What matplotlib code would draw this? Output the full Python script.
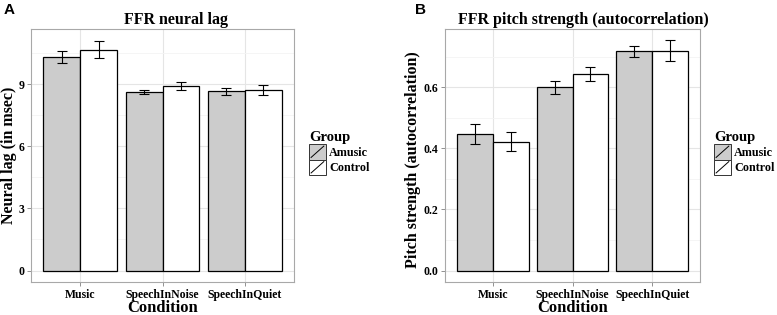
import numpy as np
import matplotlib
matplotlib.use("Agg")
import matplotlib.pyplot as plt
from matplotlib.patches import Rectangle
from matplotlib.lines import Line2D
from matplotlib.legend_handler import HandlerPatch

# data
conditions = ["Music", "SpeechInNoise", "SpeechInQuiet"]
groups = ["Amusic", "Control"]
lag_amusic = [10.31, 8.62, 8.65]
lag_control = [10.67, 8.90, 8.73]
lag_amusic_err = [0.30, 0.11, 0.17]
lag_control_err = [0.41, 0.18, 0.24]
pitch_amusic = [0.447, 0.600, 0.718]
pitch_control = [0.421, 0.644, 0.719]
pitch_amusic_err = [0.033, 0.021, 0.018]
pitch_control_err = [0.031, 0.023, 0.034]

fills = ["#CCCCCC", "white"]
serif = "Liberation Serif"
W, H = 777, 315


class SlashHandler(HandlerPatch):
    # ggplot style legend key: filled box with a diagonal line
    def create_artists(self, legend, orig_handle, xdescent, ydescent,
                       width, height, fontsize, trans):
        r = Rectangle((-xdescent, -ydescent), width, height,
                      facecolor=orig_handle.get_facecolor(),
                      edgecolor="#333333", lw=0.7, transform=trans)
        l = Line2D([-xdescent + 1.5, -xdescent + width - 1.5],
                   [-ydescent + 1.5, -ydescent + height - 1.5],
                   color="black", lw=0.7, transform=trans)
        return [r, l]


def panel(fig, rect, a, b, ea, eb, yticks, minor, ylim, fmt, ylabel, title,
          title_x, letter, letter_x, leg_x, ylab_x, ylab_y):
    ax = fig.add_axes(rect)
    x = np.arange(1, len(conditions) + 1)
    w = 0.45
    for vals, errs, fc, off in [(a, ea, fills[0], -w / 2), (b, eb, fills[1], w / 2)]:
        ax.bar(x + off, vals, width=w, color=fc, edgecolor="black", lw=0.9, zorder=3)
        ax.errorbar(x + off, vals, yerr=errs, fmt="none", ecolor="black",
                    elinewidth=0.8, capsize=3.8, capthick=0.8, zorder=4)
    ax.set_xlim(0.4, 3.6)
    ax.set_ylim(*ylim)
    ax.set_xticks(x)
    ax.set_xticklabels(conditions, fontfamily=serif, fontweight="bold", fontsize=8.5)
    ax.set_yticks(yticks)
    ax.set_yticklabels([fmt % v for v in yticks], fontfamily=serif,
                       fontweight="bold", fontsize=8.5)
    ax.set_yticks(minor, minor=True)
    ax.tick_params(axis="y", which="minor", length=0)
    ax.tick_params(which="major", length=3, color="#7F7F7F", width=0.6, pad=2)
    ax.grid(True, which="major", color="#E5E5E5", lw=0.8, zorder=0)
    ax.grid(True, which="minor", axis="y", color="#F4F4F4", lw=0.6, zorder=0)
    for s in ax.spines.values():
        s.set_color("#A8A8A8")
        s.set_linewidth(0.8)
    ax.set_xlabel("Condition", fontfamily=serif, fontweight="bold", fontsize=12,
                  labelpad=-1)
    fig.text(ylab_x / W, 1 - ylab_y / H, ylabel, rotation=90, ha="center",
             va="center", fontfamily=serif, fontweight="bold", fontsize=11.5)
    fig.text(title_x / W, 1 - 20 / H, title, ha="center", va="center",
             fontfamily=serif, fontweight="bold", fontsize=11.5)
    fig.text(letter_x / W, 1 - 10 / H, letter, ha="center", va="center",
             fontfamily="Liberation Sans", fontweight="bold", fontsize=11)
    handles = [Rectangle((0, 0), 1, 1, facecolor=f) for f in fills]
    leg = ax.legend(handles, groups, title="Group", loc="upper left",
                    bbox_to_anchor=(leg_x / W, 1 - 131 / H),
                    bbox_transform=fig.transFigure, frameon=False,
                    handler_map={Rectangle: SlashHandler()},
                    handlelength=1.4, handleheight=1.6, handletextpad=0.25,
                    labelspacing=0.0, borderpad=0, borderaxespad=0,
                    prop={"family": serif, "weight": "bold", "size": 8.7})
    leg.get_title().set_fontfamily(serif)
    leg.get_title().set_fontweight("bold")
    leg.get_title().set_fontsize(10.5)
    leg._legend_box.align = "left"
    return ax


fig = plt.figure(figsize=(W / 100, H / 100), dpi=100)
fig.patch.set_facecolor("white")

panel(fig, [31 / W, 33 / H, 263 / W, 253 / H],
      lag_amusic, lag_control, lag_amusic_err, lag_control_err,
      [0, 3, 6, 9], [1.5, 4.5, 7.5, 10.5], (-0.555, 11.66), "%d",
      "Neural lag (in msec)", "FFR neural lag", 176, "A", 9, 309, 9.5, 155)

panel(fig, [445 / W, 33 / H, 255 / W, 253 / H],
      pitch_amusic, pitch_control, pitch_amusic_err, pitch_control_err,
      [0.0, 0.2, 0.4, 0.6], [0.1, 0.3, 0.5, 0.7], (-0.0376, 0.79), "%.1f",
      "Pitch strength (autocorrelation)", "FFR pitch strength (autocorrelation)",
      583, "B", 420, 714, 413, 160)

fig.savefig("out.png", dpi=100)
